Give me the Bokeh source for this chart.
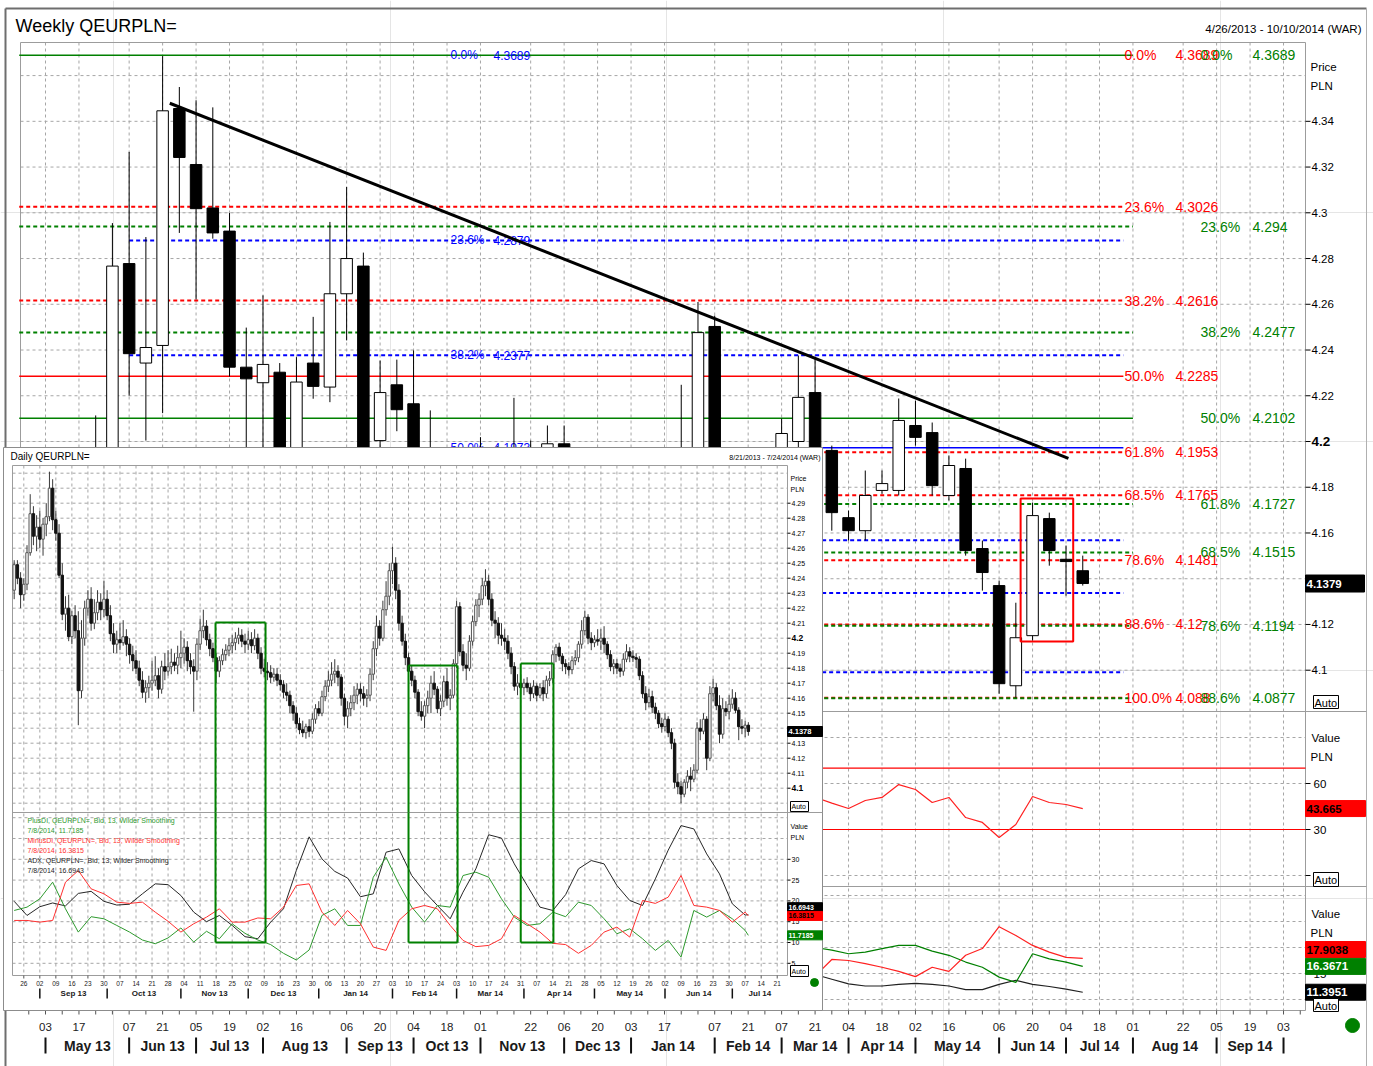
import pandas as pd
from bokeh.plotting import figure
from bokeh.models import Range1d
from bokeh.core.properties import value
from bokeh.embed import file_html
from bokeh.resources import INLINE

W, H = 1373, 1066

# ---------------- weekly QEURPLN= candles (Fridays) ----------------
week_dates = pd.date_range("2013-04-26", "2014-07-11", freq="W-FRI")
w_open = [4.135,4.140,4.150,4.170,4.180,4.195,4.2778,4.2343,4.242,4.3456,4.3211,4.3021,4.292,4.2325,4.2257,4.2303,4.19,4.2343,4.2238,4.2646,
          4.2767,4.2004,4.2248,4.2165,4.195,4.185,4.170,4.178,4.190,4.196,4.187,4.195,4.199,4.180,4.172,4.150,4.138,4.168,4.160,4.166,
          4.185,4.2503,4.187,4.148,4.153,4.183,4.200,4.2214,4.1961,4.1667,4.161,4.1786,4.1786,4.207,4.2039,4.1764,4.1882,4.1532,4.137,4.0932,
          4.1151,4.1663,4.1485,4.1435]
w_high = [4.145,4.160,4.178,4.190,4.2114,4.2955,4.3266,4.2894,4.3685,4.355,4.3492,4.3461,4.2999,4.2498,4.2639,4.2343,4.2369,4.2545,4.296,4.3113,
          4.2826,4.2354,4.2358,4.2398,4.2136,4.192,4.19,4.2019,4.198,4.2191,4.2004,4.207,4.207,4.186,4.176,4.154,4.172,4.186,4.17,4.2248,
          4.261,4.255,4.19,4.178,4.186,4.21,4.2376,4.2367,4.1982,4.1698,4.1873,4.1873,4.2188,4.2179,4.2083,4.1939,4.1925,4.1567,4.1392,4.1295,
          4.1733,4.1689,4.1545,4.1501]
w_low = [4.125,4.130,4.145,4.160,4.172,4.190,4.2201,4.2004,4.2124,4.2912,4.2621,4.2887,4.2284,4.19,4.19,4.185,4.185,4.2187,4.2172,4.2442,
         4.185,4.15,4.2045,4.188,4.176,4.157,4.16,4.175,4.151,4.184,4.17,4.19,4.176,4.168,4.145,4.133,4.136,4.155,4.14,4.154,
         4.18,4.18,4.145,4.14,4.148,4.172,4.195,4.185,4.161,4.1567,4.1567,4.1772,4.1764,4.1982,4.1764,4.1742,4.1501,4.1348,4.0897,4.088,
         4.1129,4.1457,4.1326,4.137]
w_close = [4.140,4.150,4.170,4.180,4.195,4.2767,4.2384,4.2411,4.3446,4.3242,4.3018,4.2912,4.2325,4.2274,4.2337,4.19,4.226,4.2241,4.2646,4.28,
           4.19,4.2214,4.2139,4.195,4.185,4.17,4.178,4.19,4.196,4.187,4.195,4.199,4.18,4.172,4.15,4.138,4.168,4.16,4.166,4.193,
           4.2476,4.187,4.148,4.153,4.183,4.2035,4.2193,4.19,4.1689,4.161,4.1764,4.1816,4.2092,4.2018,4.1807,4.1895,4.1523,4.1427,4.0941,4.1142,
           4.1676,4.1523,4.1475,4.1379]

# weekly indicators (13 Wilder) from 2014-01-24
ind_dates = pd.date_range("2014-01-24", "2014-07-11", freq="W-FRI")
w_rsi = [52,63,50,42,45,50,54,58,51,47.2,43.7,48.9,50.9,59.3,56.1,47.6,50.9,37.8,34.6,24.8,33.3,51.5,47.6,46.3,43.665]
w_mdi = [10,9,14,16,15,14,16,15,14.5,17.7,17.5,16.9,16.2,15.4,14.4,16.2,15.4,18.5,19.8,24.0,22.3,20.4,19.1,18.1,17.9038]
w_pdi = [22,26,23,20,19,20,21,22,20,19.5,18.8,19.1,19.8,20.4,20.4,19.3,18.5,17.2,16.2,14.3,13.3,18.8,17.8,17.2,16.3671]
w_adx = [14,15,16,16.5,16,15.5,15.2,15,14.8,13.9,13.0,12.6,12.6,12.9,13.1,12.9,12.6,11.9,11.9,12.9,13.7,12.9,12.5,12.0,11.3951]

# Fibonacci retracements (0% lines of red/blue sit under the green 0% line)
fib_red_pct = ["0.0%","23.6%","38.2%","50.0%","61.8%","68.5%","78.6%","88.6%","100.0%"]
fib_red = [4.3689,4.3026,4.2616,4.2285,4.1953,4.1765,4.1481,4.12,4.088]
fib_red_txt = ["4.3689","4.3026","4.2616","4.2285","4.1953","4.1765","4.1481","4.12","4.088"]
fib_red_solid = [True,False,False,True,False,False,False,False,False]
fib_red_line = [False,True,True,True,True,True,True,True,True]
fib_green_pct = ["0.0%","23.6%","38.2%","50.0%","61.8%","68.5%","78.6%","88.6%"]
fib_green = [4.3689,4.294,4.2477,4.2102,4.1727,4.1515,4.1194,4.0877]
fib_green_txt = ["4.3689","4.294","4.2477","4.2102","4.1727","4.1515","4.1194","4.0877"]
fib_green_solid = [True,False,False,True,False,False,False,False]
fib_green_line = [True,True,True,True,True,True,True,True]
fib_blue_pct = ["0.0%","23.6%","38.2%","50.0%","61.8%","68.5%","78.6%"]
fib_blue = [4.3689,4.2879,4.2377,4.1973,4.1568,4.1338,4.0991]
fib_blue_txt = ["4.3689","4.2879","4.2377","4.1973","4.1568","4.1338","4.0991"]
fib_blue_solid = [True,False,False,True,False,False,False]
fib_blue_line = [False,True,True,True,True,True,True]
fib_red_span = ("2013-04-22", "2014-07-28")
fib_green_span = ("2013-04-22", "2014-08-01")
fib_blue_span = ("2013-06-07", "2014-07-28")

trend_x = ["2013-06-24", "2014-07-05"]
trend_y = [4.3479, 4.1926]
box_x = ["2014-06-15", "2014-07-07"]
box_y = [4.1751, 4.1125]

wk_ticks = pd.to_datetime(["2013-05-03","2013-05-17","2013-06-07","2013-06-21","2013-07-05","2013-07-19","2013-08-02","2013-08-16",
            "2013-09-06","2013-09-20","2013-10-04","2013-10-18","2013-11-01","2013-11-22","2013-12-06","2013-12-20",
            "2014-01-03","2014-01-17","2014-02-07","2014-02-21","2014-03-07","2014-03-21","2014-04-04","2014-04-18",
            "2014-05-02","2014-05-16","2014-06-06","2014-06-20","2014-07-04","2014-07-18","2014-08-01","2014-08-22",
            "2014-09-05","2014-09-19","2014-10-03"])
price_ticks = [4.10,4.12,4.14,4.16,4.18,4.20,4.22,4.24,4.26,4.28,4.30,4.32,4.34,4.36]
price_labels = ["4.1","4.12","4.14","4.16","4.18","4.2","4.22","4.24","4.26","4.28","4.3","4.32","4.34",""]
rsi_grid = [0,30,60,90]
rsi_bands = [70,30]
wdmi_grid = [10,15,20,25,30]

# ---------------- daily QEURPLN= (8/21/2013 - 7/8/2014) ----------------
d_open = [4.232,4.249,4.240, 4.229,4.236,4.257,4.283,4.268, 4.274,4.266,4.276,4.281,4.300, 4.279,4.270,4.242,4.216,4.220,
 4.201,4.215,4.205,4.165,4.200, 4.220,4.226,4.210,4.217,4.224, 4.219,4.226,4.215,4.203,4.196, 4.199,4.197,4.201,4.196,4.189,
 4.185,4.180,4.172,4.164,4.167, 4.170,4.172,4.175,4.166,4.181, 4.178,4.181,4.184,4.182,4.187, 4.190,4.194,4.185,4.181,4.178,
 4.196,4.205,4.208,4.199,4.193, 4.187,4.178,4.185,4.189,4.192, 4.195,4.197,4.200,4.202,4.198, 4.196,4.199,4.195,4.200,4.190,
 4.180,4.178,4.177,4.174,4.176, 4.172,4.169,4.164,4.162,4.155, 4.150,4.143,4.139,4.137,4.141, 4.138,4.146,4.153,4.150,4.161,
 4.168,4.172,4.176,4.178,4.174, 4.160,4.148,4.153,4.157,4.162, 4.166,4.163,4.160,4.162,4.176, 4.193,4.208,4.200,4.219,4.228,
 4.245,4.250,4.232,4.210,4.198, 4.187,4.178,4.172,4.164,4.151, 4.148,4.155,4.160,4.170,4.166, 4.153,4.158,4.171,4.160,4.162,
 4.183,4.221,4.191,4.182,4.180, 4.198,4.211,4.222,4.226,4.235, 4.238,4.226,4.212,4.210,4.202, 4.200,4.198,4.190,4.181,4.168,
 4.170,4.167,4.170,4.167,4.163, 4.168,4.162,4.167,4.163,4.172, 4.173,4.189,4.194,4.188,4.183, 4.181,4.179,4.185,4.187,4.196,
 4.205,4.214,4.200,4.197,4.199, 4.198,4.200,4.196,4.189,4.181, 4.183,4.180,4.178,4.186,4.191, 4.188,4.187,4.186,4.175,4.163,
 4.157,4.161,4.154,4.150,4.143, 4.141,4.146,4.137,4.130,4.104, 4.101,4.096,4.104,4.108,4.106, 4.112,4.140,4.138,4.146,4.120,
 4.163,4.167,4.155,4.136,4.153, 4.151,4.156,4.160,4.152,4.141, 4.140,4.142]
d_high = [4.252,4.252,4.244, 4.240,4.262,4.296,4.288,4.282, 4.285,4.280,4.290,4.311,4.306, 4.285,4.276,4.250,4.228,4.229,
 4.218,4.222,4.218,4.212,4.225, 4.232,4.234,4.226,4.232,4.230, 4.238,4.232,4.222,4.210,4.205, 4.210,4.212,4.206,4.200,4.195,
 4.192,4.185,4.178,4.172,4.175, 4.185,4.188,4.180,4.185,4.190, 4.192,4.193,4.190,4.195,4.205, 4.200,4.198,4.190,4.186,4.200,
 4.213,4.219,4.212,4.203,4.197, 4.190,4.188,4.193,4.196,4.200, 4.202,4.204,4.207,4.206,4.203, 4.205,4.204,4.206,4.203,4.194,
 4.186,4.184,4.182,4.180,4.180, 4.176,4.172,4.170,4.165,4.158, 4.154,4.147,4.145,4.143,4.146, 4.150,4.156,4.158,4.165,4.172,
 4.178,4.184,4.186,4.182,4.176, 4.163,4.158,4.162,4.168,4.170, 4.170,4.168,4.166,4.180,4.198, 4.215,4.212,4.225,4.238,4.250,
 4.261,4.254,4.236,4.215,4.203, 4.190,4.182,4.175,4.166,4.158, 4.158,4.165,4.175,4.178,4.168, 4.162,4.175,4.180,4.166,4.186,
 4.225,4.224,4.196,4.190,4.202, 4.215,4.226,4.230,4.240,4.246, 4.242,4.230,4.218,4.214,4.210, 4.206,4.202,4.194,4.184,4.176,
 4.176,4.173,4.174,4.170,4.172, 4.170,4.170,4.172,4.175,4.178, 4.192,4.196,4.197,4.190,4.186, 4.184,4.188,4.192,4.198,4.212,
 4.218,4.216,4.204,4.202,4.206, 4.206,4.208,4.198,4.192,4.186, 4.186,4.183,4.190,4.196,4.194, 4.192,4.190,4.188,4.178,4.168,
 4.166,4.165,4.157,4.152,4.147, 4.150,4.148,4.140,4.133,4.110, 4.105,4.106,4.112,4.114,4.116, 4.144,4.146,4.150,4.148,4.168,
 4.173,4.170,4.162,4.160,4.158, 4.162,4.166,4.164,4.154,4.146, 4.145,4.144]
d_low = [4.226,4.236,4.220, 4.225,4.232,4.255,4.262,4.258, 4.260,4.255,4.268,4.278,4.272, 4.265,4.240,4.212,4.205,4.198,
 4.196,4.200,4.142,4.160,4.195, 4.215,4.205,4.206,4.212,4.212, 4.214,4.212,4.198,4.190,4.190, 4.192,4.195,4.188,4.183,4.178,
 4.176,4.168,4.160,4.157,4.160, 4.165,4.168,4.160,4.163,4.172, 4.175,4.176,4.178,4.176,4.180, 4.183,4.178,4.176,4.151,4.172,
 4.192,4.200,4.195,4.188,4.184, 4.170,4.174,4.182,4.185,4.188, 4.190,4.192,4.196,4.194,4.190, 4.192,4.190,4.192,4.186,4.176,
 4.174,4.172,4.170,4.171,4.168, 4.165,4.160,4.158,4.150,4.145, 4.140,4.136,4.134,4.133,4.134, 4.136,4.143,4.148,4.148,4.158,
 4.164,4.168,4.170,4.168,4.155, 4.142,4.140,4.148,4.152,4.156, 4.158,4.155,4.154,4.158,4.172, 4.188,4.195,4.198,4.215,4.222,
 4.236,4.226,4.205,4.195,4.182, 4.174,4.168,4.160,4.148,4.145, 4.140,4.150,4.150,4.162,4.150, 4.148,4.154,4.155,4.152,4.160,
 4.180,4.188,4.178,4.172,4.178, 4.195,4.208,4.214,4.222,4.228, 4.222,4.208,4.200,4.196,4.195, 4.192,4.186,4.176,4.165,4.162,
 4.163,4.162,4.164,4.158,4.160, 4.158,4.160,4.158,4.160,4.168, 4.170,4.184,4.185,4.178,4.176, 4.175,4.176,4.182,4.184,4.193,
 4.202,4.196,4.192,4.194,4.195, 4.192,4.190,4.186,4.178,4.176, 4.176,4.174,4.175,4.184,4.184, 4.184,4.180,4.172,4.160,4.152,
 4.154,4.150,4.146,4.140,4.137, 4.138,4.134,4.126,4.100,4.096, 4.090,4.094,4.100,4.098,4.104, 4.110,4.132,4.136,4.112,4.118,
 4.158,4.152,4.130,4.133,4.148, 4.146,4.153,4.150,4.132,4.136, 4.134,4.135]
d_close = [4.249,4.240,4.229, 4.236,4.257,4.283,4.268,4.274, 4.266,4.276,4.281,4.300,4.279, 4.270,4.242,4.216,4.220,4.201,
 4.215,4.205,4.165,4.200,4.220, 4.226,4.210,4.217,4.224,4.219, 4.226,4.215,4.203,4.196,4.199, 4.197,4.201,4.196,4.189,4.185,
 4.180,4.172,4.164,4.167,4.170, 4.172,4.175,4.166,4.181,4.178, 4.181,4.184,4.182,4.187,4.190, 4.194,4.185,4.181,4.178,4.196,
 4.205,4.208,4.199,4.193,4.187, 4.178,4.185,4.189,4.192,4.195, 4.197,4.200,4.202,4.198,4.196, 4.199,4.195,4.200,4.190,4.180,
 4.178,4.177,4.174,4.176,4.172, 4.169,4.164,4.162,4.155,4.150, 4.143,4.139,4.137,4.141,4.138, 4.146,4.153,4.150,4.161,4.168,
 4.172,4.176,4.178,4.174,4.160, 4.148,4.153,4.157,4.162,4.166, 4.163,4.160,4.162,4.176,4.193, 4.208,4.200,4.219,4.228,4.245,
 4.250,4.232,4.210,4.198,4.187, 4.178,4.172,4.164,4.151,4.148, 4.155,4.160,4.170,4.166,4.153, 4.158,4.171,4.160,4.162,4.183,
 4.221,4.191,4.182,4.180,4.198, 4.211,4.222,4.226,4.235,4.238, 4.226,4.212,4.210,4.202,4.200, 4.198,4.190,4.181,4.168,4.170,
 4.167,4.170,4.167,4.163,4.168, 4.162,4.167,4.163,4.172,4.173, 4.189,4.194,4.188,4.183,4.181, 4.179,4.185,4.187,4.196,4.205,
 4.214,4.200,4.197,4.199,4.198, 4.200,4.196,4.189,4.181,4.183, 4.180,4.178,4.186,4.191,4.188, 4.187,4.186,4.175,4.163,4.157,
 4.161,4.154,4.150,4.143,4.141, 4.146,4.137,4.130,4.104,4.101, 4.096,4.104,4.108,4.106,4.112, 4.140,4.138,4.146,4.120,4.163,
 4.167,4.155,4.136,4.153,4.151, 4.156,4.160,4.152,4.141,4.140, 4.142,4.1378]

# daily DMI (13, Wilder) sampled every 4th trading day + last
d_dmi_idx = list(range(0, 229, 4)) + [229]
d_adx = [19.9,16.5,18.6,19.5,18.8,21.8,22.3,19.9,19.0,19.2,21.7,24.1,23.9,21.3,17.3,15.0,16.5,14.1,11.4,10.9,14.9,18.1,27.3,35.4,
         30.1,27.1,25.5,21.0,21.7,31.7,32.5,26.1,22.2,18.9,15.7,22.1,27.7,35.9,35.1,28.9,23.7,18.5,17.7,21.5,27.7,29.7,28.9,23.7,
         20.1,18.9,25.3,32.2,38.1,37.3,31.3,26.5,19.3,16.6,16.6943]
d_pdi = [17.7,18.5,20.5,24.5,18.1,12.5,16.2,15.7,14.1,12.5,10.6,9.7,11.1,13.5,10.1,12.7,10.9,14.5,12.2,10.6,9.5,7.4,5.8,8.2,
         16.5,18.1,14.1,14.1,25.7,30.5,24.1,18.5,14.9,18.9,18.5,26.1,26.9,25.7,20.5,16.1,14.1,14.5,17.3,16.2,19.7,18.9,15.7,12.1,
         13.3,10.9,8.1,10.5,6.5,17.7,16.1,17.7,15.7,12.9,11.7185]
d_mdi = [15.3,15.3,14.9,15.3,24.5,27.3,22.9,21.7,19.7,19.4,19.7,17.3,15.1,12.5,14.5,16.1,18.1,14.9,14.9,15.9,15.7,18.5,23.7,24.1,
         17.3,14.1,17.7,14.5,8.9,8.1,15.3,18.1,18.9,18.1,14.1,10.5,9.0,9.3,10.9,16.5,14.5,12.5,9.8,9.5,7.4,9.3,12.5,13.7,
         11.3,20.1,19.4,20.9,26.1,18.9,18.5,17.7,14.9,17.3,16.3815]

d_price_grid = [4.09,4.10,4.11,4.12,4.13,4.14,4.15,4.16,4.17,4.18,4.19,4.20,4.21,4.22,4.23,4.24,4.25,4.26,4.27,4.28,4.29,4.30,4.31]
d_price_ticks = [4.10,4.11,4.12,4.13,4.14,4.15,4.16,4.17,4.18,4.19,4.20,4.21,4.22,4.23,4.24,4.25,4.26,4.27,4.28,4.29]
d_price_labels = ["4.1","4.11","4.12","4.13","4.14","4.15","4.16","4.17","4.18","4.19","4.2","4.21","4.22","4.23","4.24","4.25","4.26","4.27","4.28","4.29"]
d_dmi_grid = [5,10,15,20,25,30,35,40]
d_dmi_ticks = [5,10,15,20,25,30]
# highlighted ranges (trading-day index from 2013-08-21, price top)
g_left = [62.8, 123.0, 158.0]
g_right = [78.4, 138.3, 168.2]
g_top = [4.2105, 4.1818, 4.1831]
g_bottom = [10, 10, 10]

# ---------------- layout (pixel geometry of the page) ----------------
MAY3 = pd.Timestamp("2013-05-03")
PPD = 16.73 / 7.0
DAY = 86400000.0
def ms(d): return pd.Timestamp(d).value / 1e6
def wx_px(px): return ms(MAY3) + (px - 45) / PPD * DAY
def wp_px(px): return 4.2 + (441 - px) / 2287.0
def wr_px(px): return (875 - px) / 1.5333
def wd_px(px): return (1051 - px) / 5.2
def dp_px(px): return 4.1 + (787.7 - px) / 1500.0
def dd_px(px): return (983.6 - px) / 4.16
def dx_px(px): return (px - 13.68) / 3.206

FONT = "Liberation Sans"
GRID = "#a6a6a6"
EDGE = "#9c9c9c"

p = figure(width=W, height=H, x_range=Range1d(wx_px(0), wx_px(W)), y_range=Range1d(wp_px(H), wp_px(0)),
           output_backend="svg", toolbar_location=None, x_axis_location=None, y_axis_location=None,
           min_border=0, outline_line_color=None, background_fill_color="white", border_fill_color="white")
p.extra_x_ranges = {"dx": Range1d(dx_px(0), dx_px(W)), "pxx": Range1d(0, W)}
p.extra_y_ranges = {"wr": Range1d(wr_px(H), wr_px(0)), "wd": Range1d(wd_px(H), wd_px(0)),
                    "dp": Range1d(dp_px(H), dp_px(0)), "dd": Range1d(dd_px(H), dd_px(0)),
                    "pxy": Range1d(H, 0)}

def seg(x0, y0, x1, y1, color, width=1, dash="solid", xr="pxx", yr="pxy"):
    p.segment(x0=list(x0), y0=list(y0), x1=list(x1), y1=list(y1), line_color=color, line_width=width,
              line_dash=dash, x_range_name=xr, y_range_name=yr)

def txt(xs, ys, texts, size, color="black", bold=False, align="left", xr="pxx", yr="pxy", baseline="middle", yoff=0):
    p.text(x=list(xs), y=list(ys), text=list(texts), text_font=value(FONT), text_font_size=f"{size}px",
           text_color=color, text_font_style="bold" if bold else "normal", text_align=align,
           text_baseline=baseline, x_range_name=xr, y_range_name=yr, y_offset=yoff)

def box(x, y, w, h, fill, label, tcolor, size, xr="pxx", yr="pxy", bold=True, line="black"):
    p.rect(x=[x + w / 2.0], y=[y], width=w, height=h, width_units="screen", height_units="screen",
           fill_color=fill, line_color=line, x_range_name=xr, y_range_name=yr)
    txt([x + 1], [y], [label], size, tcolor, bold=bold, xr=xr, yr=yr)

# ---------- outer frame and titles ----------
seg([5], [8], [1366], [8], "#6e6e6e", 2)
seg([5], [8], [5], [H], "#6e6e6e", 2)
seg([1366], [8], [1366], [H], "#b0b0b0", 1)
txt([15], [25], ["Weekly QEURPLN="], 18)
txt([1361], [28], ["4/26/2013 - 10/10/2014 (WAR)"], 11.5, align="right")

# ---------- weekly grids ----------
tick_ms = [ms(d) for d in wk_ticks]
seg(tick_ms, [42] * len(tick_ms), tick_ms, [1010] * len(tick_ms), GRID, 1, "3 3", xr="default")
seg([20] * len(price_ticks), price_ticks, [1305] * len(price_ticks), price_ticks, GRID, 1, "3 3", yr="default")
seg([20] * 4, rsi_grid, [1305] * 4, rsi_grid, GRID, 1, "3 3", yr="wr")
seg([20] * 5, wdmi_grid, [1305] * 5, wdmi_grid, GRID, 1, "3 3", yr="wd")
seg([20, 20, 1305, 20, 20, 20], [42, 42, 42, 1010, 711, 886], [1305, 20, 1305, 1305, 1366, 1366], [42, 1010, 1010, 1010, 711, 886], EDGE, 1)

# ---------- Fibonacci lines ----------
def fib(levels, solid, drawn, span, color):
    x0, x1 = ms(span[0]), ms(span[1])
    s = [v for v, f, k in zip(levels, solid, drawn) if f and k]
    d = [v for v, f, k in zip(levels, solid, drawn) if (not f) and k]
    seg([x0] * len(d), d, [x1] * len(d), d, color, 2, "4 3", xr="default", yr="default")
    seg([x0] * len(s), s, [x1] * len(s), s, color, 1.5, "solid", xr="default", yr="default")

fib(fib_blue, fib_blue_solid, fib_blue_line, fib_blue_span, "#0000ff")
fib(fib_red, fib_red_solid, fib_red_line, fib_red_span, "#ff0000")
fib(fib_green, fib_green_solid, fib_green_line, fib_green_span, "#008000")
txt([450] * len(fib_blue), fib_blue, fib_blue_pct, 12, "#0000ff", yr="default")
txt([493] * len(fib_blue), fib_blue, fib_blue_txt, 12, "#0000ff", yr="default")
txt([1124] * len(fib_red), fib_red, fib_red_pct, 14, "#ff0000", yr="default")
txt([1175] * len(fib_red), fib_red, fib_red_txt, 14, "#ff0000", yr="default")
txt([1200] * len(fib_green), fib_green, fib_green_pct, 14, "#008000", yr="default")
txt([1252] * len(fib_green), fib_green, fib_green_txt, 14, "#008000", yr="default")

# ---------- weekly candles ----------
wx = [ms(d) for d in week_dates]
BW = 11.5 / PPD * DAY
p.segment(x0=wx, y0=w_low, x1=wx, y1=w_high, line_color="black", line_width=1)
up = [i for i in range(len(wx)) if w_close[i] >= w_open[i]]
dn = [i for i in range(len(wx)) if w_close[i] < w_open[i]]
p.vbar(x=[wx[i] for i in up], width=BW, bottom=[w_open[i] for i in up], top=[w_close[i] for i in up],
       fill_color="white", line_color="black", line_width=1)
p.vbar(x=[wx[i] for i in dn], width=BW, bottom=[w_close[i] for i in dn], top=[w_open[i] for i in dn],
       fill_color="black", line_color="black", line_width=1)
p.line(x=[ms(d) for d in trend_x], y=trend_y, line_color="black", line_width=3)
p.quad(left=[ms(box_x[0])], right=[ms(box_x[1])], top=[box_y[0]], bottom=[box_y[1]],
       fill_alpha=0, line_color="#ff0000", line_width=2)

# ---------- weekly RSI / DMI ----------
ix = [ms(d) for d in ind_dates]
seg([20, 20], rsi_bands, [1305, 1305], rsi_bands, "#ff0000", 1.2, yr="wr")
p.line(x=ix, y=w_rsi, line_color="#ff2020", line_width=1.2, y_range_name="wr")
p.line(x=ix, y=w_adx, line_color="#202020", line_width=1.2, y_range_name="wd")
p.line(x=ix, y=w_pdi, line_color="#008000", line_width=1.2, y_range_name="wd")
p.line(x=ix, y=w_mdi, line_color="#ff2020", line_width=1.2, y_range_name="wd")

# ---------- weekly right axis ----------
lab_t = [t for t, l in zip(price_ticks, price_labels) if l and l != "4.2"]
lab_l = [l for l in price_labels if l and l != "4.2"]
seg([1305] * len(price_ticks[:-1]), price_ticks[:-1], [1310] * len(price_ticks[:-1]), price_ticks[:-1], "black", 1, yr="default")
txt([1311] * len(lab_t), lab_t, lab_l, 11.5, yr="default")
txt([1311], [4.2], ["4.2"], 13.5, bold=True, yr="default")
txt([1310, 1310], [66, 85], ["Price", "PLN"], 11.5)
box(1305, w_close[-1], 59, 17, "black", "4.1379", "white", 11.5, yr="default")
p.quad(left=[1313], right=[1338], top=[695], bottom=[708], fill_color="white", line_color="black", x_range_name="pxx", y_range_name="pxy")
txt([1314], [702], ["Auto"], 11)

seg([1305, 1305, 1305], [60, 30, 0], [1310, 1310, 1310], [60, 30, 0], "black", 1, yr="wr")
txt([1313, 1313], [60, 30], ["60", "30"], 11.5, yr="wr")
txt([1311, 1310], [737, 756], ["Value", "PLN"], 11.5)
box(1305, w_rsi[-1], 60, 16, "#ff0000", "43.665", "black", 11.5, yr="wr", line="#ff0000")
p.quad(left=[1313], right=[1338], top=[872], bottom=[886], fill_color="white", line_color="black", x_range_name="pxx", y_range_name="pxy")
txt([1314], [879], ["Auto"], 11)

seg([1305], [15], [1310], [15], "black", 1, yr="wd")
txt([1313], [15], ["15"], 11.5, yr="wd")
txt([1311, 1310], [913, 932], ["Value", "PLN"], 11.5)
box(1305, 949, 60, 16, "#ff0000", "17.9038", "black", 11.5, line="#ff0000")
box(1305, w_pdi[-1], 60, 16, "#008000", "16.3671", "white", 11.5, yr="wd", line="#008000")
box(1305, w_adx[-1], 60, 16, "black", "11.3951", "white", 11.5, yr="wd")
p.quad(left=[1313], right=[1338], top=[998], bottom=[1011], fill_color="white", line_color="black", x_range_name="pxx", y_range_name="pxy")
txt([1314], [1005], ["Auto"], 11)

# ---------- weekly bottom axis ----------
allw = pd.date_range("2013-04-26", "2014-10-10", freq="W-FRI")
aw = [ms(d) for d in allw]
seg(aw, [1010] * len(aw), aw, [1014] * len(aw), "#555555", 1, xr="default")
txt(tick_ms, [1026] * len(tick_ms), [d.strftime("%d") for d in wk_ticks], 11.5, "#222222", align="center", xr="default")
seps, seen = [], set()
for d in wk_ticks:
    if (d.year, d.month) not in seen:
        seen.add((d.year, d.month))
        seps.append(d)
sep_ms = [ms(d) for d in seps]
seg(sep_ms, [1037] * len(sep_ms), sep_ms, [1053] * len(sep_ms), "#111111", 2, xr="default")
mid = [(sep_ms[i] + sep_ms[i + 1]) / 2 for i in range(len(sep_ms) - 1)]
txt(mid, [1045] * len(mid), [d.strftime("%b %y") for d in seps[:-1]], 14, "#1a1a1a", bold=True, align="center", xr="default")
p.scatter(x=[1352], y=[1025], size=14, marker="circle", fill_color="#008000", line_color="#008000", x_range_name="pxx", y_range_name="pxy")

# ================= inset: Daily QEURPLN= =================
p.quad(left=[3], right=[822], top=[447], bottom=[1010], fill_color="white", line_color="#8c8c8c", line_width=1,
       x_range_name="pxx", y_range_name="pxy")
txt([10], [456], ["Daily QEURPLN="], 10)
txt([820], [457], ["8/21/2013 - 7/24/2014 (WAR)"], 7, align="right")

bd_all = pd.bdate_range("2013-08-21", "2014-07-24")
mondays = [i for i, d in enumerate(bd_all) if d.weekday() == 0]
seg(mondays, [465] * len(mondays), mondays, [975] * len(mondays), GRID, 1, "3 3", xr="dx")
seg([12] * len(d_price_grid), d_price_grid, [787] * len(d_price_grid), d_price_grid, GRID, 1, "3 3", yr="dp")
seg([12] * len(d_dmi_grid), d_dmi_grid, [787] * len(d_dmi_grid), d_dmi_grid, GRID, 1, "3 3", yr="dd")
seg([12, 12, 787, 12, 12], [465, 465, 465, 975, 812], [787, 12, 787, 787, 822], [465, 975, 975, 975, 812], EDGE, 1)

n = min(len(d_open), len(d_high), len(d_low), len(d_close))
di = list(range(n))
p.segment(x0=di, y0=d_low[:n], x1=di, y1=d_high[:n], line_color="#3a3a3a", line_width=1, x_range_name="dx", y_range_name="dp")
dup = [i for i in di if d_close[i] >= d_open[i]]
ddn = [i for i in di if d_close[i] < d_open[i]]
p.vbar(x=dup, width=0.75, bottom=[d_open[i] for i in dup], top=[d_close[i] for i in dup], fill_color="white",
       line_color="#555555", line_width=1, x_range_name="dx", y_range_name="dp")
p.vbar(x=ddn, width=0.75, bottom=[d_close[i] for i in ddn], top=[d_open[i] for i in ddn], fill_color="#111111",
       line_color="#111111", line_width=1, x_range_name="dx", y_range_name="dp")

p.line(x=d_dmi_idx, y=d_adx, line_color="#262626", line_width=1, x_range_name="dx", y_range_name="dd")
p.line(x=d_dmi_idx, y=d_pdi, line_color="#2f9a2f", line_width=1, x_range_name="dx", y_range_name="dd")
p.line(x=d_dmi_idx, y=d_mdi, line_color="#ff3030", line_width=1, x_range_name="dx", y_range_name="dd")

# highlighted green rectangles spanning price and DMI panes
P_BOT, D_TOP = dp_px(812), dd_px(812)
seg(g_left, g_top, g_right, g_top, "#008000", 2, xr="dx", yr="dp")
seg(g_left, g_bottom, g_right, g_bottom, "#008000", 2, xr="dx", yr="dd")
seg(g_left + g_right, g_top + g_top, g_left + g_right, [P_BOT] * 6, "#008000", 2, xr="dx", yr="dp")
seg(g_left + g_right, [D_TOP] * 6, g_left + g_right, g_bottom + g_bottom, "#008000", 2, xr="dx", yr="dd")

# inset price axis
seg([787] * len(d_price_ticks), d_price_ticks, [790] * len(d_price_ticks), d_price_ticks, "black", 1, yr="dp")
pt = [t for t, l in zip(d_price_ticks, d_price_labels) if l not in ("4.2", "4.1")]
pl = [l for l in d_price_labels if l not in ("4.2", "4.1")]
txt([791] * len(pt), pt, pl, 7, yr="dp")
txt([791, 791], [4.2, 4.1], ["4.2", "4.1"], 8.5, bold=True, yr="dp")
txt([790, 790], [478, 489], ["Price", "PLN"], 7)
box(787, d_close[n - 1], 35, 10, "black", "4.1378", "white", 7.5, yr="dp")
p.quad(left=[790], right=[808], top=[801], bottom=[811], fill_color="white", line_color="black", x_range_name="pxx", y_range_name="pxy")
txt([791], [806], ["Auto"], 7)

# inset DMI axis and legend
seg([787] * len(d_dmi_ticks), d_dmi_ticks, [790] * len(d_dmi_ticks), d_dmi_ticks, "black", 1, yr="dd")
txt([791] * len(d_dmi_ticks), d_dmi_ticks, [str(t) for t in d_dmi_ticks], 7, yr="dd")
txt([790, 790], [826, 837], ["Value", "PLN"], 7)
box(787, 906.7, 35, 9, "black", "16.6943", "white", 7)
box(787, d_mdi[-1], 35, 9, "#ff0000", "16.3815", "black", 7, yr="dd", line="#ff0000")
box(787, d_pdi[-1], 35, 9, "#008000", "11.7185", "white", 7, yr="dd", line="#008000")
p.quad(left=[790], right=[808], top=[965], bottom=[976], fill_color="white", line_color="black", x_range_name="pxx", y_range_name="pxy")
txt([791], [970.5], ["Auto"], 7)
txt([27, 27], [820, 830], ["PlusDI, QEURPLN=, Bid, 13, Wilder Smoothing", "7/8/2014, 11.7185"], 7, "#2f9a2f")
txt([27, 27], [840, 850], ["MinusDI, QEURPLN=, Bid, 13, Wilder Smoothing", "7/8/2014, 16.3815"], 7, "#ff3030")
txt([27, 27], [860, 870], ["ADX, QEURPLN=, Bid, 13, Wilder Smoothing", "7/8/2014, 16.6943"], 7, "#262626")

# inset date axis
seg(mondays, [975] * len(mondays), mondays, [978] * len(mondays), "#555555", 1, xr="dx")
txt(mondays, [982.5] * len(mondays), [bd_all[i].strftime("%d") for i in mondays], 6.5, "#222222", align="center", xr="dx")
firsts, seen2 = [], set()
for i, d in enumerate(bd_all):
    if (d.year, d.month) not in seen2:
        seen2.add((d.year, d.month))
        firsts.append(i)
firsts = firsts[1:]
seg(firsts, [988] * len(firsts), firsts, [998] * len(firsts), "#111111", 1.5, xr="dx")
ends = firsts[1:] + [dx_px(787)]
dmid = [(a + b) / 2 for a, b in zip(firsts, ends)]
txt(dmid, [993] * len(dmid), [bd_all[i].strftime("%b %y") for i in firsts], 8, "#1a1a1a", bold=True, align="center", xr="dx")
p.scatter(x=[814], y=[982], size=8, marker="circle", fill_color="#008000", line_color="#008000", x_range_name="pxx", y_range_name="pxy")

open("out.html", "w").write(file_html(p, INLINE))
